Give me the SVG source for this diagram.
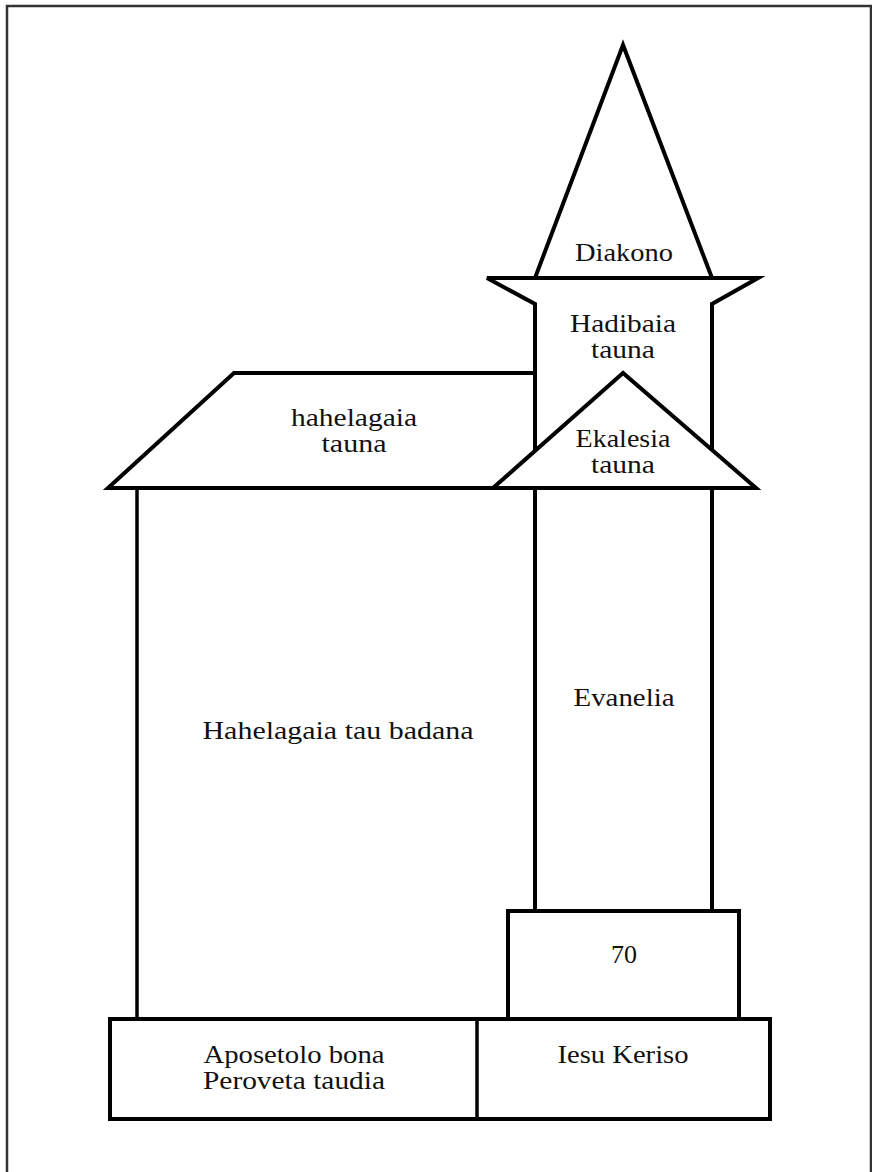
<svg xmlns="http://www.w3.org/2000/svg" width="872" height="1172" viewBox="0 0 872 1172">
<style>
.s{fill:none;stroke:#000;stroke-width:4;stroke-linejoin:miter}
.w{fill:#fff;stroke:#000;stroke-width:4;stroke-linejoin:miter}
.v{fill:none;stroke:#000;stroke-width:3.5}
text{font-family:"Liberation Serif","DejaVu Serif",serif;font-size:26px;fill:#111;text-anchor:middle}
</style>
<rect width="872" height="1172" fill="#fff"/>
<path d="M7,1180 L7,6 L871,6 L871,1180" fill="none" stroke="#333" stroke-width="2.5"/>
<g id="spire">
<polygon class="w" points="623,45 535,278 712,278"/>
<text x="624" y="261" textLength="98" lengthAdjust="spacingAndGlyphs">Diakono</text>
</g>
<g id="hadibaia">
<path class="s" d="M535,911 L535,304 L487,278 L758,278 L712,304 L712,911"/>
<text x="623" y="332" textLength="106" lengthAdjust="spacingAndGlyphs">Hadibaia</text>
<text x="623" y="358" textLength="64" lengthAdjust="spacingAndGlyphs">tauna</text>
</g>
<g id="left-roof">
<path class="s" d="M535,373 L234,373 L108,488 L495,488"/>
<text x="354" y="426" textLength="126" lengthAdjust="spacingAndGlyphs">hahelagaia</text>
<text x="354" y="452" textLength="65" lengthAdjust="spacingAndGlyphs">tauna</text>
</g>
<g id="ekalesia">
<polygon class="w" points="623,373 493,488 756,488"/>
<text x="623" y="447" textLength="95" lengthAdjust="spacingAndGlyphs">Ekalesia</text>
<text x="623" y="473" textLength="64" lengthAdjust="spacingAndGlyphs">tauna</text>
</g>
<g id="main-hall">
<line class="v" x1="137" y1="488" x2="137" y2="1019"/>
<text x="338" y="739" textLength="271" lengthAdjust="spacingAndGlyphs">Hahelagaia tau badana</text>
</g>
<g id="evanelia">
<text x="624" y="706" textLength="101" lengthAdjust="spacingAndGlyphs">Evanelia</text>
</g>
<g id="seventy">
<rect class="s" x="508" y="911" width="231" height="108"/>
<text x="624" y="963">70</text>
</g>
<g id="base">
<rect class="s" x="110" y="1019" width="660" height="100"/>
<line class="v" x1="477" y1="1019" x2="477" y2="1119"/>
<text x="294" y="1063" textLength="181" lengthAdjust="spacingAndGlyphs">Aposetolo bona</text>
<text x="294" y="1089" textLength="182" lengthAdjust="spacingAndGlyphs">Peroveta taudia</text>
<text x="623" y="1063" textLength="131" lengthAdjust="spacingAndGlyphs">Iesu Keriso</text>
</g>
<g id="connectors"></g>
</svg>
